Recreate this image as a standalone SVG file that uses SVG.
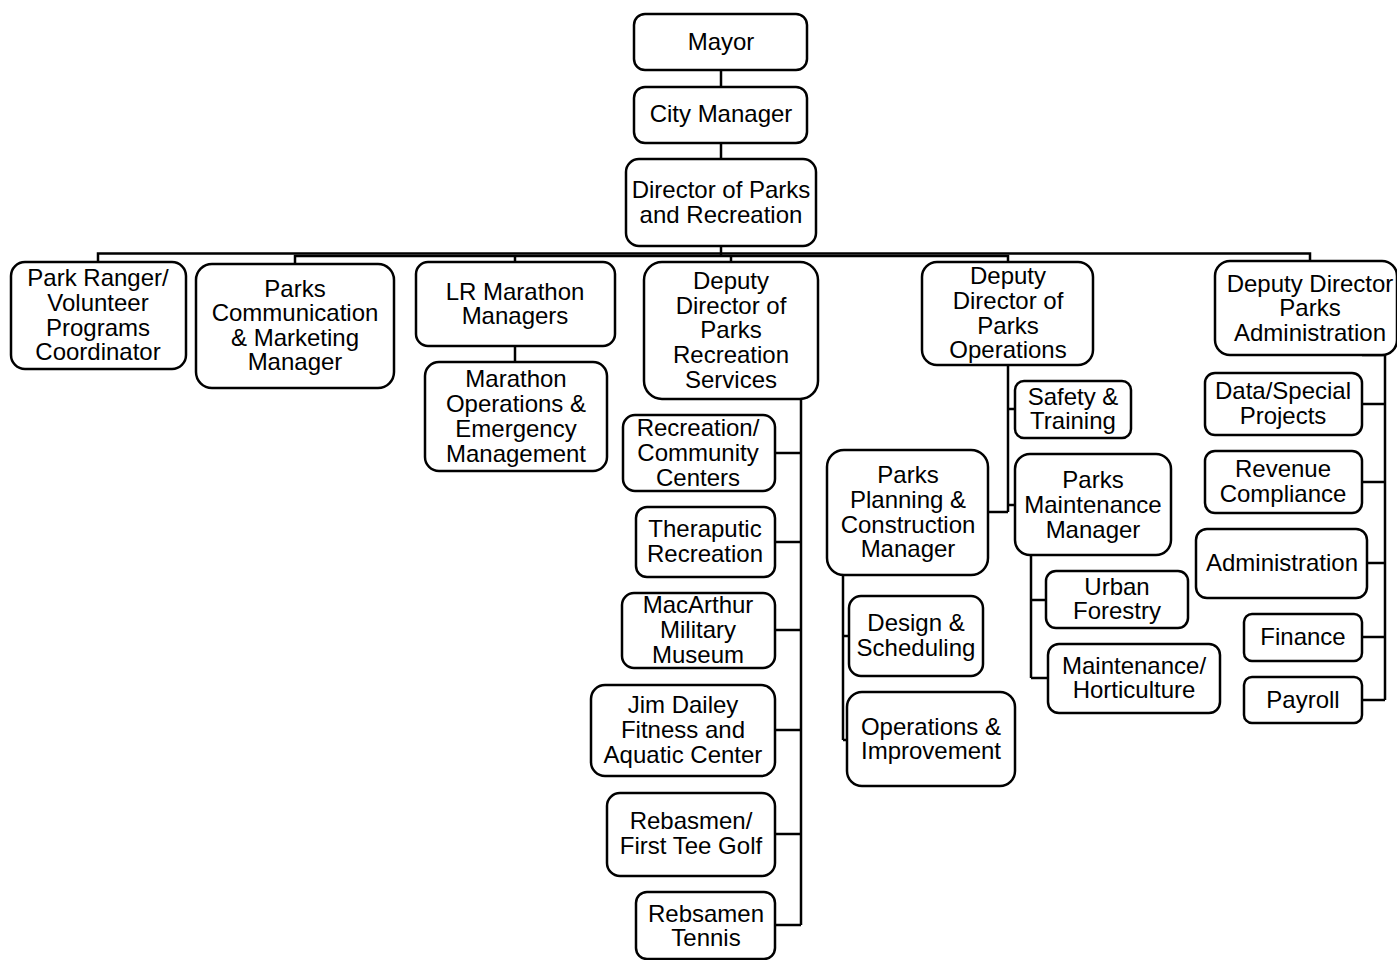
<svg xmlns="http://www.w3.org/2000/svg" width="1397" height="960" viewBox="0 0 1397 960">
  <style>
    .box { fill: #ffffff; stroke: #000000; stroke-width: 2.5; }
    .lbl { font-family: "Liberation Sans", Arial, sans-serif; font-size: 24px; fill: #000000; text-anchor: middle; }
    .wire { fill: none; stroke: #000000; stroke-width: 2.5; }
  </style>
  <rect width="1397" height="960" fill="#ffffff"/>

  <!-- reporting lines -->
  <g id="connectors" class="wire">
    <path d="M721 70V87"/>
    <path d="M721 143V159"/>
    <path d="M721 246V256"/>
    <!-- top distribution bar -->
    <path d="M98 262V253.5H1310V261"/>
    <path d="M295 264V256H1008V262"/>
    <path d="M515 256V262"/>
    <path d="M731 256V262"/>
    <!-- marathon -->
    <path d="M515 346V362"/>
    <!-- recreation services -->
    <path d="M801 399V925"/>
    <path d="M775 453H801"/>
    <path d="M775 542H801"/>
    <path d="M775 630H801"/>
    <path d="M775 730H801"/>
    <path d="M775 834H801"/>
    <path d="M775 925H801"/>
    <!-- operations -->
    <path d="M1008 365V512"/>
    <path d="M1008 409H1015"/>
    <path d="M988 512H1008"/>
    <path d="M1008 505H1015"/>
    <path d="M843 575V740"/>
    <path d="M843 636H849"/>
    <path d="M843 740H847"/>
    <path d="M1031 555V678"/>
    <path d="M1031 600H1046"/>
    <path d="M1031 678H1048"/>
    <!-- administration -->
    <path d="M1362 355H1385V700"/>
    <path d="M1362 404H1385"/>
    <path d="M1362 482H1385"/>
    <path d="M1367 563H1385"/>
    <path d="M1362 637H1385"/>
    <path d="M1362 700H1385"/>
  </g>

  <g id="mayor">
    <rect class="box" x="634" y="14" width="173" height="56" rx="11"/>
    <text class="lbl" x="721" y="50">Mayor</text>
  </g>
  <g id="city-manager">
    <rect class="box" x="634" y="87" width="173" height="56" rx="11"/>
    <text class="lbl" x="721" y="122">City Manager</text>
  </g>
  <g id="director">
    <rect class="box" x="626" y="159" width="190" height="87" rx="13"/>
    <text class="lbl" x="721" y="198">Director of Parks</text>
    <text class="lbl" x="721" y="223">and Recreation</text>
  </g>

  <g id="park-ranger">
    <rect class="box" x="11" y="262" width="175" height="107" rx="14"/>
    <text class="lbl" x="98" y="286">Park Ranger/</text>
    <text class="lbl" x="98" y="311">Volunteer</text>
    <text class="lbl" x="98" y="336">Programs</text>
    <text class="lbl" x="98" y="360">Coordinator</text>
  </g>
  <g id="communication">
    <rect class="box" x="196" y="264" width="198" height="124" rx="16"/>
    <text class="lbl" x="295" y="297">Parks</text>
    <text class="lbl" x="295" y="321">Communication</text>
    <text class="lbl" x="295" y="346">&amp; Marketing</text>
    <text class="lbl" x="295" y="370">Manager</text>
  </g>
  <g id="lr-marathon">
    <rect class="box" x="416" y="262" width="199" height="84" rx="12"/>
    <text class="lbl" x="515" y="300">LR Marathon</text>
    <text class="lbl" x="515" y="324">Managers</text>
  </g>
  <g id="marathon-ops">
    <rect class="box" x="425" y="362" width="182" height="109" rx="14"/>
    <text class="lbl" x="516" y="387">Marathon</text>
    <text class="lbl" x="516" y="412">Operations &amp;</text>
    <text class="lbl" x="516" y="437">Emergency</text>
    <text class="lbl" x="516" y="462">Management</text>
  </g>

  <g id="deputy-recreation">
    <rect class="box" x="644" y="262" width="174" height="137" rx="18"/>
    <text class="lbl" x="731" y="289">Deputy</text>
    <text class="lbl" x="731" y="314">Director of</text>
    <text class="lbl" x="731" y="338">Parks</text>
    <text class="lbl" x="731" y="363">Recreation</text>
    <text class="lbl" x="731" y="388">Services</text>
  </g>
  <g id="community-centers">
    <rect class="box" x="623" y="415" width="152" height="76" rx="12"/>
    <text class="lbl" x="698" y="436">Recreation/</text>
    <text class="lbl" x="698" y="461">Community</text>
    <text class="lbl" x="698" y="486">Centers</text>
  </g>
  <g id="therapeutic">
    <rect class="box" x="636" y="507" width="139" height="70" rx="11"/>
    <text class="lbl" x="705" y="537">Theraputic</text>
    <text class="lbl" x="705" y="562">Recreation</text>
  </g>
  <g id="macarthur">
    <rect class="box" x="622" y="593" width="153" height="75" rx="12"/>
    <text class="lbl" x="698" y="613">MacArthur</text>
    <text class="lbl" x="698" y="638">Military</text>
    <text class="lbl" x="698" y="663">Museum</text>
  </g>
  <g id="jim-dailey">
    <rect class="box" x="591" y="685" width="184" height="91" rx="14"/>
    <text class="lbl" x="683" y="713">Jim Dailey</text>
    <text class="lbl" x="683" y="738">Fitness and</text>
    <text class="lbl" x="683" y="763">Aquatic Center</text>
  </g>
  <g id="golf">
    <rect class="box" x="607" y="793" width="168" height="83" rx="13"/>
    <text class="lbl" x="691" y="829">Rebasmen/</text>
    <text class="lbl" x="691" y="854">First Tee Golf</text>
  </g>
  <g id="tennis">
    <rect class="box" x="636" y="892" width="139" height="67" rx="11"/>
    <text class="lbl" x="706" y="922">Rebsamen</text>
    <text class="lbl" x="706" y="946">Tennis</text>
  </g>

  <g id="deputy-operations">
    <rect class="box" x="922" y="262" width="171" height="103" rx="15"/>
    <text class="lbl" x="1008" y="284">Deputy</text>
    <text class="lbl" x="1008" y="309">Director of</text>
    <text class="lbl" x="1008" y="334">Parks</text>
    <text class="lbl" x="1008" y="358">Operations</text>
  </g>
  <g id="safety">
    <rect class="box" x="1015" y="381" width="116" height="57" rx="9"/>
    <text class="lbl" x="1073" y="405">Safety &amp;</text>
    <text class="lbl" x="1073" y="429">Training</text>
  </g>
  <g id="planning">
    <rect class="box" x="827" y="450" width="161" height="125" rx="17"/>
    <text class="lbl" x="908" y="483">Parks</text>
    <text class="lbl" x="908" y="508">Planning &amp;</text>
    <text class="lbl" x="908" y="533">Construction</text>
    <text class="lbl" x="908" y="557">Manager</text>
  </g>
  <g id="maintenance">
    <rect class="box" x="1015" y="454" width="156" height="101" rx="15"/>
    <text class="lbl" x="1093" y="488">Parks</text>
    <text class="lbl" x="1093" y="513">Maintenance</text>
    <text class="lbl" x="1093" y="538">Manager</text>
  </g>
  <g id="design">
    <rect class="box" x="849" y="596" width="134" height="80" rx="12"/>
    <text class="lbl" x="916" y="631">Design &amp;</text>
    <text class="lbl" x="916" y="656">Scheduling</text>
  </g>
  <g id="improvement">
    <rect class="box" x="847" y="692" width="168" height="94" rx="15"/>
    <text class="lbl" x="931" y="735">Operations &amp;</text>
    <text class="lbl" x="931" y="759">Improvement</text>
  </g>
  <g id="forestry">
    <rect class="box" x="1046" y="571" width="142" height="57" rx="10"/>
    <text class="lbl" x="1117" y="595">Urban</text>
    <text class="lbl" x="1117" y="619">Forestry</text>
  </g>
  <g id="horticulture">
    <rect class="box" x="1048" y="644" width="172" height="69" rx="11"/>
    <text class="lbl" x="1134" y="674">Maintenance/</text>
    <text class="lbl" x="1134" y="698">Horticulture</text>
  </g>

  <g id="deputy-administration">
    <rect class="box" x="1215" y="261" width="182" height="94" rx="15"/>
    <text class="lbl" x="1310" y="292">Deputy Director</text>
    <text class="lbl" x="1310" y="316">Parks</text>
    <text class="lbl" x="1310" y="341">Administration</text>
  </g>
  <g id="data-projects">
    <rect class="box" x="1205" y="373" width="157" height="62" rx="10"/>
    <text class="lbl" x="1283" y="399">Data/Special</text>
    <text class="lbl" x="1283" y="424">Projects</text>
  </g>
  <g id="revenue">
    <rect class="box" x="1205" y="451" width="157" height="62" rx="10"/>
    <text class="lbl" x="1283" y="477">Revenue</text>
    <text class="lbl" x="1283" y="502">Compliance</text>
  </g>
  <g id="administration">
    <rect class="box" x="1196" y="529" width="171" height="69" rx="11"/>
    <text class="lbl" x="1282" y="571">Administration</text>
  </g>
  <g id="finance">
    <rect class="box" x="1244" y="614" width="118" height="47" rx="8"/>
    <text class="lbl" x="1303" y="645">Finance</text>
  </g>
  <g id="payroll">
    <rect class="box" x="1244" y="677" width="118" height="46" rx="8"/>
    <text class="lbl" x="1303" y="708">Payroll</text>
  </g>
</svg>
